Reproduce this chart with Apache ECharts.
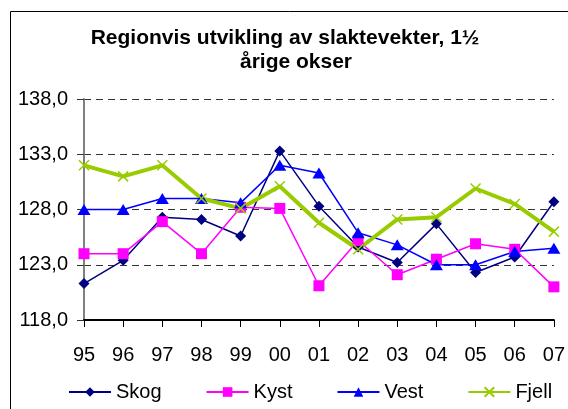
<!DOCTYPE html>
<html>
<head>
<meta charset="utf-8">
<script src="https://cdn.jsdelivr.net/npm/echarts@6/dist/echarts.min.js"></script>
<style>
  html, body { margin: 0; padding: 0; background: #fff; }
  #chart { width: 568px; height: 409px; }
</style>
</head>
<body>
<div id="chart"></div>
<script>
// years
const years = ['95', '96', '97', '98', '99', '00', '01', '02', '03', '04', '05', '06', '07'];

// slaktevekt per region
const skog  = [121.3, 123.4, 127.3, 127.1, 125.6, 133.3, 128.3, 124.6, 123.2, 126.7, 122.3, 123.7, 128.7];
const kyst  = [124.0, 124.0, 126.9, 124.0, 128.2, 128.1, 121.1, 125.2, 122.1, 123.5, 124.9, 124.4, 121.0];
const vest  = [128.0, 128.0, 129.0, 129.0, 128.6, 132.0, 131.3, 125.9, 124.8, 123.0, 123.0, 124.2, 124.5];
const fjell = [132.0, 131.0, 132.0, 129.0, 128.1, 130.1, 126.8, 124.4, 127.1, 127.3, 129.9, 128.5, 126.0];

// y ticks
const yTicks = [118, 123, 128, 133, 138];

const font = 'Liberation Sans, Arial, sans-serif';

const chart = echarts.init(document.getElementById('chart'));

const option = {
  animation: false,
  backgroundColor: '#fff',
  graphic: [
    {
      type: 'rect',
      shape: { x: 10.5, y: 11.5, width: 700, height: 500 },
      style: { fill: 'none', stroke: '#000', lineWidth: 1 }
    },
    {
      type: 'text',
      x: 285, y: 38,
      style: {
        text: 'Regionvis utvikling av slaktevekter, 1½',
        font: 'bold 21px ' + font,
        fill: '#000',
        textAlign: 'center',
        textVerticalAlign: 'middle'
      }
    },
    {
      type: 'text',
      x: 296, y: 62,
      style: {
        text: 'årige okser',
        font: 'bold 21px ' + font,
        fill: '#000',
        textAlign: 'center',
        textVerticalAlign: 'middle'
      }
    }
  ],
  grid: { left: 84, right: 13, top: 99, bottom: 89 },
  legend: {
    left: 63,
    top: 377,
    itemWidth: 42,
    itemHeight: 12,
    itemGap: 44,
    textStyle: { fontSize: 20, fontFamily: font, color: '#000' },
    data: ['Skog', 'Kyst', 'Vest', 'Fjell']
  },
  xAxis: {
    type: 'category',
    data: years,
    boundaryGap: false,
    axisLine: { lineStyle: { color: '#000', width: 2 } },
    axisTick: { length: 7, lineStyle: { color: '#000' } },
    axisLabel: { fontSize: 20, fontFamily: font, color: '#000', margin: 25 },
    splitLine: { show: false }
  },
  yAxis: {
    type: 'value',
    min: 118,
    max: 138,
    axisLine: { show: true, lineStyle: { color: '#808080', width: 2 } },
    axisTick: { show: true, length: 7, customValues: yTicks, lineStyle: { color: '#333' } },
    axisLabel: {
      customValues: yTicks,
      fontSize: 20, fontFamily: font, color: '#000', margin: 16,
      formatter: v => v.toFixed(1).replace('.', ',')
    },
    splitLine: { show: true, lineStyle: { color: '#333', width: 1, type: [7, 5] } }
  },
  series: [
    {
      name: 'Skog',
      type: 'line',
      data: skog,
      symbol: 'diamond',
      symbolSize: 11,
      itemStyle: { color: '#000080' },
      lineStyle: { color: '#000080', width: 1.5 }
    },
    {
      name: 'Kyst',
      type: 'line',
      data: kyst,
      symbol: 'rect',
      symbolSize: 11,
      itemStyle: { color: '#FF00FF' },
      lineStyle: { color: '#FF00FF', width: 1.5 }
    },
    {
      name: 'Vest',
      type: 'line',
      data: vest,
      symbol: 'triangle',
      symbolSize: [13, 11],
      itemStyle: { color: '#0000FF' },
      lineStyle: { color: '#0000FF', width: 1.5 }
    },
    {
      name: 'Fjell',
      type: 'line',
      data: fjell,
      symbol: 'path://M0,0L10,10M10,0L0,10',
      symbolSize: 10,
      itemStyle: { color: '#99CC00', borderColor: '#99CC00', borderWidth: 1.5 },
      lineStyle: { color: '#99CC00', width: 4 }
    }
  ]
};

chart.setOption(option);
</script>
</body>
</html>
